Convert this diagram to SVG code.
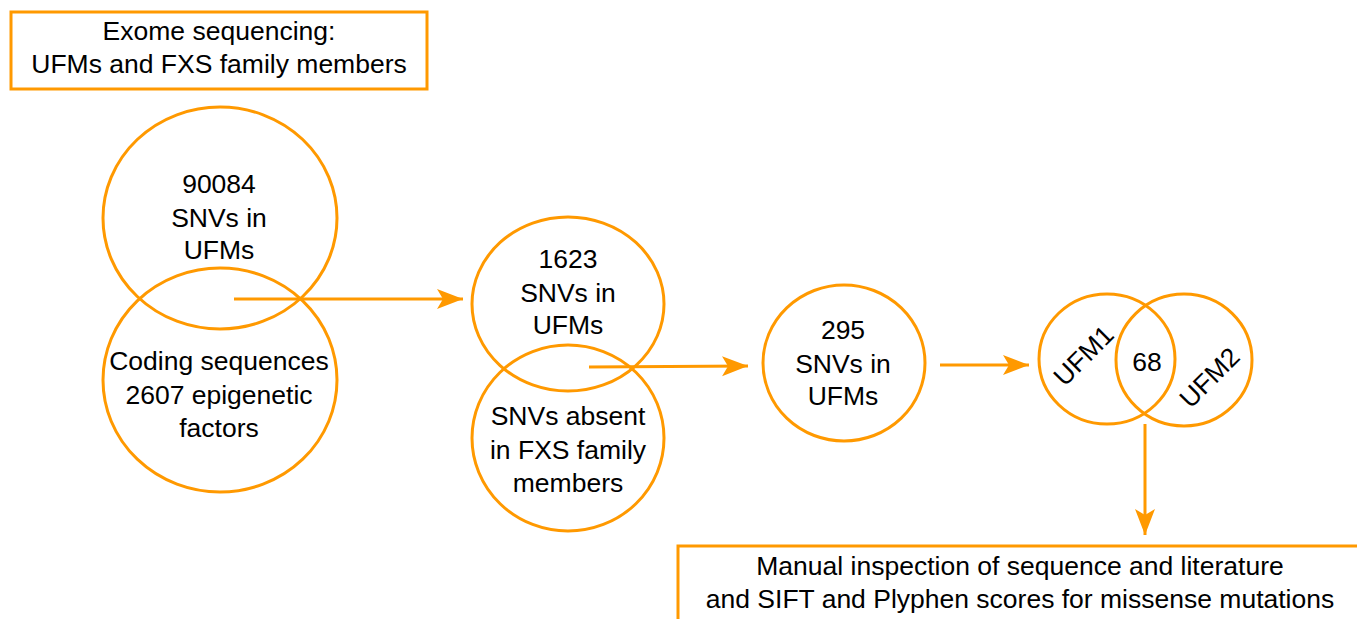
<svg xmlns="http://www.w3.org/2000/svg" width="1357" height="619" viewBox="0 0 1357 619">
<defs>
<style>
.s{fill:none;stroke:#FF9900;stroke-width:3}
.t{font-family:"Liberation Sans",Arial,sans-serif;font-size:26.5px;fill:#000;text-anchor:middle}
.c{fill:none;stroke:#FF9900;stroke-width:3}
</style>
<marker id="ah" markerUnits="userSpaceOnUse" markerWidth="28" markerHeight="22" refX="26" refY="10" orient="auto">
<path d="M0,0 L26,10 L0,20 L6,10 Z" fill="#FF9900"/>
</marker>
</defs>
<rect width="1357" height="619" fill="#fff"/>
<g id="node-exome">
<rect class="s" x="11" y="12" width="416" height="77"/>
<text class="t" x="219" y="40">Exome sequencing:</text>
<text class="t" x="219" y="73">UFMs and FXS family members</text>
</g>
<g id="node-snvs90084">
<ellipse class="s" cx="220" cy="218" rx="117" ry="111"/>
<text class="t" x="219" y="193">90084</text>
<text class="t" x="219" y="227">SNVs in</text>
<text class="t" x="219" y="259">UFMs</text>
</g>
<g id="node-coding">
<ellipse class="s" cx="220" cy="380" rx="117" ry="112"/>
<text class="t" x="219" y="370">Coding sequences</text>
<text class="t" x="219" y="404">2607 epigenetic</text>
<text class="t" x="219" y="437">factors</text>
</g>
<g id="node-snvs1623">
<ellipse class="s" cx="568" cy="304" rx="96" ry="87"/>
<text class="t" x="568" y="268">1623</text>
<text class="t" x="568" y="302">SNVs in</text>
<text class="t" x="568" y="334">UFMs</text>
</g>
<g id="node-absent">
<ellipse class="s" cx="568" cy="438" rx="96" ry="93"/>
<text class="t" x="568" y="425">SNVs absent</text>
<text class="t" x="568" y="459">in FXS family</text>
<text class="t" x="568" y="492">members</text>
</g>
<g id="node-snvs295">
<ellipse class="s" cx="844" cy="363" rx="81" ry="78"/>
<text class="t" x="843" y="339">295</text>
<text class="t" x="843" y="373">SNVs in</text>
<text class="t" x="843" y="405">UFMs</text>
</g>
<g id="node-ufm1">
<ellipse class="s" cx="1107" cy="359" rx="68" ry="65"/>
<text class="t" transform="translate(1090,362) rotate(-45)">UFM1</text>
</g>
<g id="node-ufm2">
<ellipse class="s" cx="1184" cy="360" rx="68" ry="66"/>
<text class="t" transform="translate(1216,384) rotate(-45)">UFM2</text>
</g>
<g id="node-68">
<text class="t" x="1147" y="371">68</text>
</g>
<g id="node-manual">
<rect class="s" x="678" y="546" width="700" height="100"/>
<text class="t" x="1020" y="575">Manual inspection of sequence and literature</text>
<text class="t" x="1020" y="608">and SIFT and Plyphen scores for missense mutations</text>
</g>
<g id="connectors">
<line class="c" x1="234" y1="299" x2="463" y2="299" marker-end="url(#ah)"/>
<line class="c" x1="589" y1="367" x2="748" y2="366" marker-end="url(#ah)"/>
<line class="c" x1="940" y1="365" x2="1029" y2="365" marker-end="url(#ah)"/>
<line class="c" x1="1145" y1="424" x2="1145" y2="535" marker-end="url(#ah)"/>
</g>
</svg>
